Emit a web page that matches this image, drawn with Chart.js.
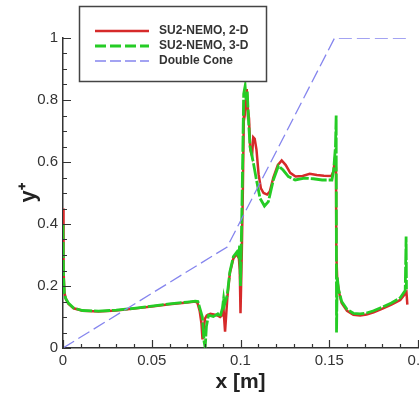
<!DOCTYPE html>
<html>
<head>
<meta charset="utf-8">
<title>y+ along the double cone</title>
<script src="https://cdn.jsdelivr.net/npm/chart.js@4.4.1/dist/chart.umd.min.js"></script>
<style>
  html, body { margin: 0; padding: 0; background: #fff; overflow: hidden; }
  #wrap { width: 440px; height: 395px; }
</style>
</head>
<body>
<div id="wrap"><canvas id="yplusChart" width="440" height="395"></canvas></div>
<script>
// SU2-NEMO, 2-D
const x2D = [0, 0.0003, 0.0008, 0.0015, 0.003, 0.006, 0.011, 0.02, 0.03, 0.04, 0.05, 0.06, 0.07, 0.0745,
  0.0758, 0.077, 0.078, 0.0786, 0.0792, 0.080, 0.081, 0.083, 0.085, 0.087, 0.0885, 0.0895, 0.0905, 0.0913,
  0.0926, 0.094, 0.096, 0.0979, 0.0991, 0.0996, 0.1, 0.1007, 0.1013, 0.102, 0.1028, 0.1035, 0.104, 0.1048,
  0.1055, 0.1065, 0.1072, 0.108, 0.109, 0.1102, 0.1115, 0.113, 0.115, 0.1165, 0.1185, 0.121, 0.1232, 0.1255,
  0.128, 0.131, 0.135, 0.139, 0.143, 0.147, 0.1512, 0.1524, 0.1532, 0.1538, 0.154, 0.1545, 0.1555, 0.157,
  0.16, 0.1636, 0.1674, 0.171, 0.175, 0.18, 0.185, 0.19, 0.1928, 0.1935, 0.194];
const y2D = [0.45, 0.25, 0.18, 0.16, 0.143, 0.128, 0.12, 0.118, 0.121, 0.127, 0.134, 0.141, 0.147, 0.15,
  0.145, 0.12, 0.08, 0.028, 0.06, 0.095, 0.105, 0.11, 0.108, 0.105, 0.1, 0.105, 0.12, 0.053,
  0.163, 0.241, 0.289, 0.303, 0.289, 0.25, 0.112, 0.3, 0.5, 0.8, 0.77, 0.835, 0.78, 0.74,
  0.64, 0.62, 0.68, 0.675, 0.64, 0.56, 0.515, 0.5, 0.495, 0.505, 0.55, 0.59, 0.605, 0.59,
  0.565, 0.553, 0.555, 0.562, 0.558, 0.556, 0.555, 0.57, 0.61, 0.58, 0.3, 0.22, 0.18, 0.145,
  0.12, 0.107, 0.105, 0.108, 0.115, 0.127, 0.14, 0.155, 0.175, 0.18, 0.14];

// SU2-NEMO, 3-D
const x3D = [0, 0.0003, 0.0008, 0.0015, 0.003, 0.006, 0.011, 0.02, 0.03, 0.04, 0.05, 0.06, 0.07, 0.0745,
  0.076, 0.077, 0.0785, 0.0795, 0.0801, 0.0808, 0.082, 0.0847, 0.0872, 0.0885, 0.0898, 0.0905, 0.091,
  0.0925, 0.094, 0.096, 0.098, 0.099, 0.0995, 0.1, 0.1008, 0.1018, 0.1026, 0.1032, 0.1038, 0.1045, 0.1054,
  0.1073, 0.109, 0.111, 0.1135, 0.1157, 0.1185, 0.1214, 0.124, 0.127, 0.1308, 0.136, 0.141, 0.146, 0.1515,
  0.1525, 0.1535, 0.1539, 0.1541, 0.1545, 0.1552, 0.157, 0.16, 0.1636, 0.1674, 0.171, 0.175, 0.18, 0.185,
  0.19, 0.1928, 0.1933, 0.1935];
const y3D = [0.40, 0.23, 0.175, 0.16, 0.145, 0.129, 0.121, 0.119, 0.122, 0.128, 0.135, 0.142, 0.148, 0.151,
  0.15, 0.13, 0.1, 0.02, 0.002, 0.07, 0.106, 0.102, 0.11, 0.1, 0.128, 0.16, 0.14,
  0.17, 0.245, 0.295, 0.31, 0.295, 0.33, 0.2, 0.45, 0.82, 0.845, 0.8, 0.83, 0.735, 0.649,
  0.596, 0.542, 0.483, 0.458, 0.472, 0.542, 0.588, 0.574, 0.553, 0.542, 0.548, 0.546, 0.542, 0.542,
  0.575, 0.65, 0.75, 0.05, 0.23, 0.19, 0.15, 0.125, 0.112, 0.11, 0.113, 0.12, 0.132, 0.145,
  0.162, 0.185, 0.36, 0.19];

// Double Cone (scaled geometry)
const coneX = [0, 0.0925, 0.153, 0.194];
const coneY = [0, 0.326, 1, 1];

// axes
const xTicks = [0, 0.05, 0.1, 0.15, 0.2];
const xTickLabels = ['0', '0.05', '0.1', '0.15', '0.2'];
const yTicks = [0, 0.2, 0.4, 0.6, 0.8, 1];
const yTickLabels = ['0', '0.2', '0.4', '0.6', '0.8', '1'];

const FONT = '"Liberation Sans", Arial, Helvetica, sans-serif';

function toPoints(xs, ys) {
    return xs.map((x, i) => ({ x: x, y: ys[i] }));
}

// inward major/minor tick marks (tecplot style)
const tickMarks = {
    id: 'tickMarks',
    afterDraw(chart) {
        const { ctx, chartArea } = chart;
        const xs = chart.scales.x;
        const ys = chart.scales.y;
        ctx.save();
        ctx.strokeStyle = '#333';
        ctx.lineWidth = 1.2;
        ctx.beginPath();
        for (let i = 0; i <= 20; i++) {
            const px = Math.round(xs.getPixelForValue(i * 0.01)) + 0.5;
            const len = i % 5 === 0 ? 8 : 4;
            ctx.moveTo(px, chartArea.bottom);
            ctx.lineTo(px, chartArea.bottom - len);
        }
        for (let i = 0; i <= 20; i++) {
            const py = Math.round(ys.getPixelForValue(i * 0.05)) + 0.5;
            const len = i % 4 === 0 ? 8 : 4;
            ctx.moveTo(chartArea.left, py);
            ctx.lineTo(chartArea.left + len, py);
        }
        ctx.stroke();
        ctx.restore();
    }
};

// boxed legend in the upper left
const boxLegend = {
    id: 'boxLegend',
    afterDatasetsDraw(chart) {
        const ctx = chart.ctx;
        ctx.save();
        ctx.fillStyle = '#fff';
        ctx.fillRect(79, 6, 187, 75);
        ctx.strokeStyle = '#444';
        ctx.lineWidth = 1.5;
        ctx.strokeRect(79.5, 6.5, 187, 75);
        chart.data.datasets.forEach((ds, i) => {
            const y = 31 + i * 15;
            ctx.beginPath();
            ctx.setLineDash(ds.legendDash || []);
            ctx.strokeStyle = ds.borderColor;
            ctx.lineWidth = ds.borderWidth;
            ctx.moveTo(95, y);
            ctx.lineTo(149, y);
            ctx.stroke();
            ctx.setLineDash([]);
            ctx.fillStyle = '#333';
            ctx.font = 'bold 12px ' + FONT;
            ctx.textBaseline = 'middle';
            ctx.fillText(ds.label, 159, y);
        });
        ctx.restore();
    }
};

const ctx = document.getElementById('yplusChart');

new Chart(ctx, {
    type: 'line',
    data: {
        datasets: [{
            label: 'SU2-NEMO, 2-D',
            data: toPoints(x2D, y2D),
            borderColor: '#d62a2a',
            borderWidth: 2.5,
            pointRadius: 0,
            tension: 0,
            order: 2
        }, {
            label: 'SU2-NEMO, 3-D',
            data: toPoints(x3D, y3D),
            borderColor: '#25cc25',
            borderWidth: 2.8,
            borderDash: [16, 2],
            legendDash: [11, 4],
            pointRadius: 0,
            tension: 0,
            order: 1
        }, {
            label: 'Double Cone',
            data: toPoints(coneX, coneY),
            borderColor: '#8585ee',
            borderWidth: 1.3,
            borderDash: [13, 5],
            legendDash: [11, 4],
            pointRadius: 0,
            tension: 0,
            order: 0
        }]
    },
    options: {
        responsive: false,
        animation: false,
        devicePixelRatio: 1,
        layout: { padding: { top: 38, right: 22, left: 0, bottom: 0 } },
        plugins: {
            legend: { display: false },
            tooltip: { enabled: false }
        },
        scales: {
            x: {
                type: 'linear',
                min: 0,
                max: 0.2,
                afterBuildTicks: (scale) => { scale.ticks = xTicks.map(v => ({ value: v })); },
                afterFit: (scale) => { scale.height = 47; },
                ticks: {
                    padding: 4,
                    color: '#333',
                    font: { family: FONT, size: 15 },
                    maxRotation: 0,
                    callback: (value, index) => xTickLabels[index]
                },
                grid: { display: false, drawTicks: false },
                border: { display: true, color: '#333', width: 1.5 },
                title: {
                    display: true,
                    text: 'x [m]',
                    color: '#222',
                    font: { family: FONT, size: 21, weight: 'bold' },
                    padding: { top: 0, bottom: 0 }
                }
            },
            y: {
                type: 'linear',
                min: 0,
                max: 1,
                afterBuildTicks: (scale) => { scale.ticks = yTicks.map(v => ({ value: v })); },
                afterFit: (scale) => { scale.width = 63; },
                ticks: {
                    padding: 5,
                    color: '#333',
                    font: { family: FONT, size: 15 },
                    callback: (value, index) => yTickLabels[index]
                },
                grid: { display: false, drawTicks: false },
                border: { display: true, color: '#333', width: 1.5 },
                title: {
                    display: true,
                    text: 'y⁺',
                    color: '#222',
                    font: { family: FONT, size: 22, weight: 'bold' },
                    padding: { top: 16, bottom: 0 }
                }
            }
        }
    },
    plugins: [tickMarks, boxLegend]
});
</script>
</body>
</html>
